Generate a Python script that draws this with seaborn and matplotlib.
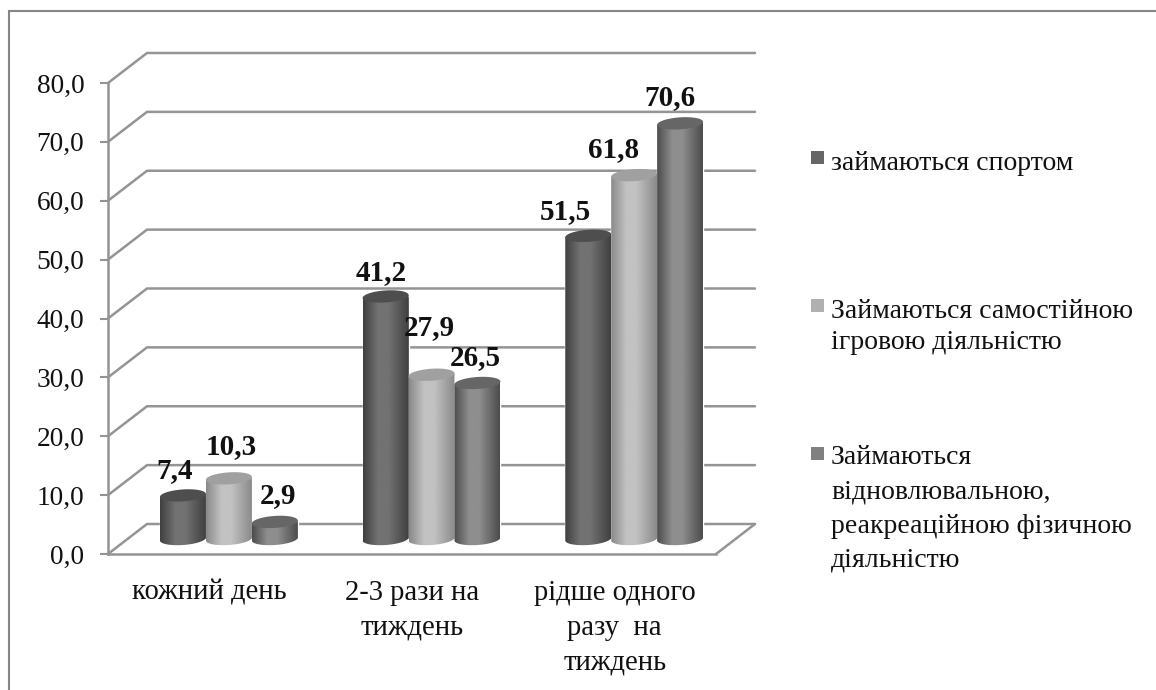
import numpy as np
import pandas as pd
import matplotlib
matplotlib.use('Agg')
import matplotlib.pyplot as plt
import seaborn as sns
from matplotlib.colors import LinearSegmentedColormap
from matplotlib.patches import Rectangle

categories = ['кожний день', '2-3 рази на\nтиждень', 'рідше одного\nразу  на\nтиждень']
series_names = ['займаються спортом',
                'Займаються самостійною\nігровою діяльністю',
                'Займаються\nвідновлювальною,\nреакреаційною фізичною\nдіяльністю']
sport = [7.4, 41.2, 51.5]
play = [10.3, 27.9, 61.8]
recreation = [2.9, 26.5, 70.6]
y_ticks = [0, 10, 20, 30, 40, 50, 60, 70, 80]

# label nudges in pixels from the top of each bar, labels were placed by hand in the original
label_nudges = [[(-8, 17), (2, 24), (3, 19)],
                [(-4, 16), (-2, 40), (-2, 18)],
                [(-23, 17), (-21, 18), (-10, 18)]]

W, H = 1156, 690
GRID = '#949494'
# edge, centre, top colours for each series
shades = [('#404040', '#727272', '#4e4e4e'),
          ('#8a8a8a', '#c2c2c2', '#a0a0a0'),
          ('#4c4c4c', '#8e8e8e', '#666666')]
swatches = ['#666666', '#b0b0b0', '#808080']


def px_box(left, top, right, bottom):
    return [left / W, 1 - bottom / H, (right - left) / W, (bottom - top) / H]


sns.set_style('white')
plt.rcParams['font.family'] = ['Liberation Serif', 'DejaVu Serif']
fig = plt.figure(figsize=(W / 100, H / 100), dpi=100)

# frame around the whole chart
fig.add_artist(Rectangle((9 / W, 1 - 1200 / H), 1500 / W, (1200 - 11) / H, transform=fig.transFigure,
                         fill=False, edgecolor='#868686', linewidth=1.5))

# front plane of the 3d box
ax = fig.add_axes(px_box(108, 83, 716, 554))
ax.set_xlim(-0.5, 2.5)
ax.set_ylim(0, 80)
ax.patch.set_alpha(0)

depth_x = 39 / (608 / 3)
depth_y = 30 / (471 / 80)
for t in y_ticks:
    ax.plot([-0.5, -0.5 + depth_x, 2.5 + depth_x], [t, t + depth_y, t + depth_y],
            color=GRID, lw=1.8, clip_on=False, zorder=1)
ax.plot([2.5, 2.5 + depth_x], [0, depth_y], color=GRID, lw=1.8, clip_on=False, zorder=1)

for side in ['top', 'right']:
    ax.spines[side].set_visible(False)
for side in ['left', 'bottom']:
    ax.spines[side].set_color(GRID)
    ax.spines[side].set_linewidth(1.8)
ax.set_yticks(y_ticks)
ax.set_yticklabels([f'{t:.1f}'.replace('.', ',') for t in y_ticks], fontsize=19.7, color='#111111')
ax.set_xticks([0, 1, 2])
ax.set_xticklabels(categories, fontsize=20.6, color='#111111', linespacing=1.45, va='top')
ax.set_xticks([-0.5, 0.5, 1.5, 2.5], minor=True)
ax.tick_params(axis='x', which='major', length=0, pad=18.5)
ax.tick_params(axis='x', which='minor', length=5.5, width=1.5, color=GRID)
ax.tick_params(axis='y', length=5.5, width=1.5, color=GRID, pad=11.5, left=True)
ax.set_xlabel('')
ax.set_ylabel('')

# bars stand half way into the box
unit = 471 / 80
bar_ax = fig.add_axes(px_box(108 + 19.5, 83 - 15, 716 + 19.5, 554 - 15 + 3 * unit))
bar_ax.patch.set_alpha(0)

df = pd.DataFrame({
    'category': categories * 3,
    'value': sport + play + recreation,
    'series': [s for s in series_names for _ in categories],
})
sns.barplot(data=df, x='category', y='value', hue='series', hue_order=series_names,
            palette=swatches, width=0.68, gap=0, legend=False, ax=bar_ax, saturation=1)
bar_ax.set_xlim(-0.5, 2.5)
bar_ax.set_ylim(-3, 80)
bar_ax.axis('off')

ry = 6 / unit
tilt = 1.5 / unit
theta = np.linspace(0, 2 * np.pi, 80)
lower = np.linspace(np.pi, 2 * np.pi, 40)
z = 5
for s, container in enumerate(bar_ax.containers):
    edge, mid, top = shades[s]
    cmap = LinearSegmentedColormap.from_list('c', [(0, edge), (0.33, mid), (0.55, mid), (1, edge)], N=128)
    ramp = np.linspace(0, 1, 128)[None, :]
    for c, bar in enumerate(container):
        left, w, h = bar.get_x(), bar.get_width(), bar.get_height()
        cx = left + w / 2
        # ellipses lean up to the right like the perspective of the original
        base = np.column_stack([cx + np.cos(lower) * w / 2, np.sin(lower) * ry + np.cos(lower) * tilt])
        outline = np.vstack([[left, h - tilt], [left + w, h + tilt], base[::-1]])
        clip = plt.Polygon(outline, closed=True, transform=bar_ax.transData)
        im = bar_ax.imshow(ramp, cmap=cmap, extent=(left, left + w, -ry - tilt, h + tilt), aspect='auto', zorder=z)
        im.set_clip_path(clip)
        cap = np.column_stack([cx + np.cos(theta) * w / 2, h + np.sin(theta) * ry + np.cos(theta) * tilt])
        bar_ax.add_patch(plt.Polygon(cap, closed=True, facecolor=top, edgecolor='none', zorder=z + 0.5))
        dx, dy = label_nudges[c][s]
        bar_ax.annotate(f'{h:.1f}'.replace('.', ','), xy=(cx, h), xytext=(dx * 0.72, dy * 0.72),
                        textcoords='offset points', ha='center', va='baseline',
                        fontsize=21, fontweight='bold', color='#111111', zorder=200)
        z += 1
bar_ax.set_xlim(-0.5, 2.5)
bar_ax.set_ylim(-3, 80)

# legend, first line of each entry lines up with its swatch
swatch_top = [151, 299, 447]
text_top = [151, 299, 445]
line_gaps = [1.33, 1.33, 1.49]
for name, colour, top, ttop, gap in zip(series_names, swatches, swatch_top, text_top, line_gaps):
    fig.add_artist(Rectangle((811 / W, 1 - (top + 13) / H), 13 / W, 13 / H, transform=fig.transFigure,
                             facecolor=colour, edgecolor='none'))
    fig.text(831 / W, 1 - ttop / H, name, fontsize=20, color='#111111', va='top', ha='left', linespacing=gap)

plt.savefig('out.png', dpi=100)
plt.close()
